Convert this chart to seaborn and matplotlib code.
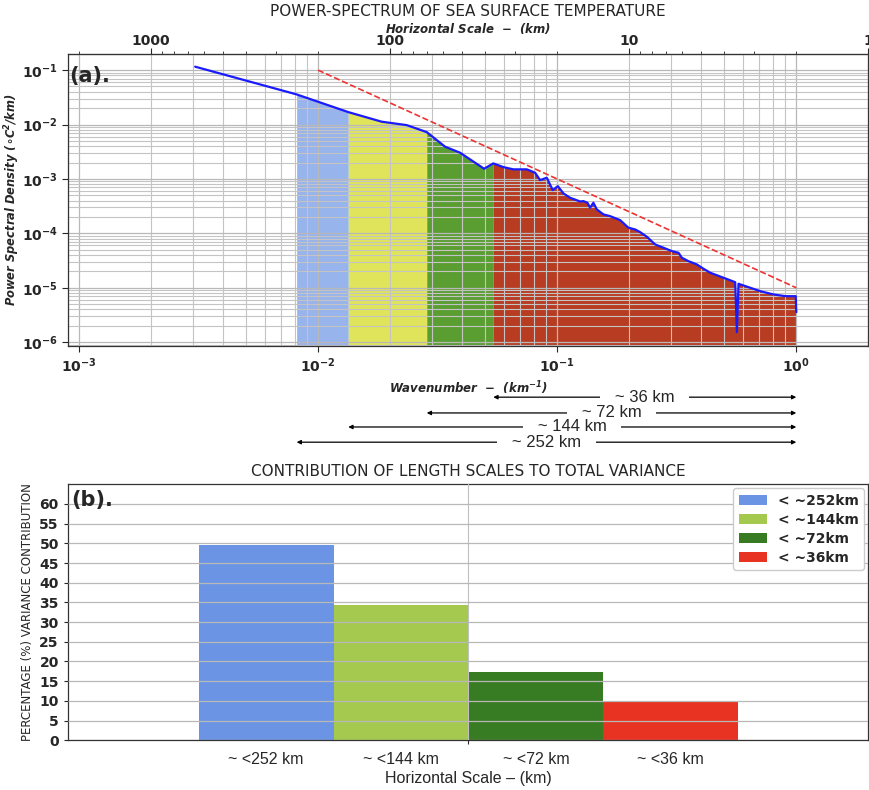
import numpy as np
import pandas as pd
import matplotlib
matplotlib.use("Agg")
import matplotlib.pyplot as plt
from matplotlib.transforms import blended_transform_factory
import seaborn as sns

# ---------------- data ----------------
wavenumber = [0.003066, 0.008145, 0.01339, 0.01847, 0.02350, 0.02850, 0.0340, 0.0393,
              0.0495, 0.0541, 0.0596, 0.0656, 0.0747, 0.0809, 0.0849, 0.0905, 0.0959,
              0.1007, 0.1063, 0.1133, 0.1248, 0.1288, 0.1339, 0.1374, 0.1418, 0.1466,
              0.1562, 0.1666, 0.1835, 0.1987, 0.2120, 0.2225, 0.2373, 0.2570, 0.2785,
              0.3020, 0.3218, 0.3324, 0.3542, 0.3842, 0.4031, 0.4367, 0.4964, 0.5554,
              0.5646, 0.5734, 0.6421, 0.7069, 0.8035, 0.8995, 0.995, 1.0]
psd = [0.1155, 0.03575, 0.0169, 0.01126, 0.00975, 0.00725, 0.00391, 0.00303,
       0.00154, 0.00193, 0.00165, 0.0015, 0.0015, 0.0013, 0.00095, 0.001052, 0.000622,
       0.000737, 0.000541, 0.000451, 0.000385, 0.000391, 0.000365, 0.000296, 0.000365,
       0.000275, 0.000223, 0.000207, 0.000175, 0.0001268, 0.0001179, 0.0001052,
       8.66e-5, 6.25e-5, 5.44e-5, 4.71e-5, 4.40e-5, 3.56e-5, 3.08e-5, 2.68e-5, 2.33e-5,
       1.887e-5, 1.527e-5, 1.267e-5, 1.527e-6, 1.184e-5, 1.0e-5, 8.66e-6, 7.53e-6,
       7.01e-6, 7.0e-6, 3.56e-6]
ref_k = [0.01, 1.0]
ref_psd = [0.1, 1.0e-5]
band_edges = [0.008145, 0.01339, 0.0285, 0.0541, 1.0]
band_colors = ['#98b4ec', '#dfe45a', '#5a9e32', '#b83c22']
arrow_labels = ['~ 36 km', '~ 72 km', '~ 144 km', '~ 252 km']
arrow_left = [0.0541, 0.0285, 0.01339, 0.008145]
top_ticks = [1000, 100, 10, 1]

scale_labels = ['~ <252 km', '~ <144 km', '~ <72 km', '~ <36 km']
legend_labels = ['< ~252km', '< ~144km', '< ~72km', '< ~36km']
variance = [49.7, 34.3, 17.4, 9.7]
bar_colors = ['#6b95e4', '#a5c94f', '#377b22', '#e83323']

# ---------------- style ----------------
sns.set_style("white")
plt.rcParams['font.family'] = ['DejaVu Sans']
plt.rcParams['mathtext.default'] = 'regular'
ARIAL = ['Liberation Sans', 'DejaVu Sans']

fig = plt.figure(figsize=(8.7, 7.9), dpi=100)
ax1 = fig.add_axes([0.078, 0.562, 0.920, 0.370])
ax2 = fig.add_axes([0.078, 0.063, 0.920, 0.324])

# ---------------- panel (a) ----------------
k = np.array(wavenumber)
p = np.array(psd)
ax1.set_xscale('log')
ax1.set_yscale('log')
for lo, hi, c in zip(band_edges[:-1], band_edges[1:], band_colors):
    m = (k >= lo) & (k <= hi)
    ax1.fill_between(k[m], 1e-9, p[m], color=c, linewidth=0, zorder=1)
sns.lineplot(x=wavenumber, y=psd, ax=ax1, color='#1a1aff', linewidth=1.6,
             zorder=4, sort=False, estimator=None)
ax1.plot(ref_k, ref_psd, '--', color='#ee3333', linewidth=1.2, zorder=4)
ax1.set_xlim(0.0009, 2.0)
ax1.set_ylim(8.5e-7, 0.2)
ax1.set_axisbelow(False)
ax1.grid(True, which='major', color='#b8b8b8', linewidth=0.9, zorder=2)
ax1.grid(True, which='minor', color='#c4c4c4', linewidth=0.8, zorder=2)
for s in ax1.spines.values():
    s.set_color('#333333'); s.set_linewidth(0.9); s.set_zorder(5)
ax1.tick_params(axis='both', which='major', labelsize=10, length=4, direction='out',
                bottom=True, left=True)
ax1.tick_params(axis='both', which='minor', length=0)
for t in ax1.get_xticklabels() + ax1.get_yticklabels():
    t.set_fontweight('bold')
ax1.set_xlabel(r'Wavenumber  $-$  (km$^{-1}$)', fontsize=8.5, fontweight='bold',
               fontstyle='italic', labelpad=3)
ax1.set_ylabel(r'Power Spectral Density ($\circ C^2/km$)', fontsize=8.3,
               fontweight='bold', fontstyle='italic')
ax1.yaxis.set_label_coords(-0.057, 0.5)
ax1.text(0.002, 0.925, '(a).', transform=ax1.transAxes, fontsize=15,
         fontweight='bold', va='center', ha='left', zorder=6)


def inv(x):
    x = np.asarray(x, dtype=float)
    with np.errstate(divide='ignore', invalid='ignore'):
        return 2.0 / x


secax = ax1.secondary_xaxis('top', functions=(inv, inv))
secax.set_xticks(top_ticks)
secax.set_xticklabels([str(t) for t in top_ticks], fontweight='bold', fontsize=10)
secax.tick_params(axis='x', which='major', length=4, pad=0)
secax.tick_params(axis='x', which='minor', length=2)
fig.text(0.538, 1 - 28 / 790, r'Horizontal Scale  $-$  (km)', fontsize=8.5,
         fontweight='bold', fontstyle='italic', ha='center', va='center')
fig.text(0.538, 1 - 12 / 790, 'POWER-SPECTRUM OF SEA SURFACE TEMPERATURE',
         fontsize=11, ha='center', va='center')

arrow_y = [-0.175, -0.229, -0.277, -0.329]
for lab, kl, yy in zip(arrow_labels, arrow_left, arrow_y):
    ax1.annotate('', xy=(1.0, yy), xytext=(kl, yy),
                 xycoords=('data', 'axes fraction'),
                 textcoords=('data', 'axes fraction'),
                 arrowprops=dict(arrowstyle='<|-|>', color='black', lw=0.9,
                                 mutation_scale=6, shrinkA=0, shrinkB=0),
                 annotation_clip=False)
    xm = np.sqrt(kl * 1.0)
    ax1.text(xm, yy, '   ' + lab + '   ',
             transform=blended_transform_factory(ax1.transData, ax1.transAxes),
             ha='center', va='center', fontsize=12, family=ARIAL,
             bbox=dict(facecolor='white', edgecolor='none', pad=0.5), clip_on=False)

# ---------------- panel (b) ----------------
df = pd.DataFrame({'group': ['all'] * 4, 'scale': legend_labels, 'variance': variance})
sns.barplot(data=df, x='group', y='variance', hue='scale', hue_order=legend_labels,
            palette=bar_colors, saturation=1, width=0.8, linewidth=0, ax=ax2)
ax2.set_xlim(-0.594, 0.593)
ax2.set_ylim(0, 65)
ax2.set_yticks(np.arange(0, 61, 5))
ax2.set_axisbelow(False)
ax2.grid(True, axis='y', color='#b8b8b8', linewidth=0.9)
ax2.grid(True, axis='x', color='#c0c0c0', linewidth=0.8)
ax2.set_xticks([0])
ax2.set_xticklabels([''])
ax2.tick_params(axis='both', length=3, direction='out', bottom=True, left=True)
for t in ax2.get_yticklabels():
    t.set_fontweight('bold')
    t.set_fontsize(10)
for s in ax2.spines.values():
    s.set_color('#333333'); s.set_linewidth(0.9)
ax2.set_xlabel('Horizontal Scale – (km)', fontsize=11.5, family=ARIAL, labelpad=16)
ax2.set_ylabel('PERCENTAGE (%) VARIANCE CONTRIBUTION', fontsize=8.5)
ax2.set_title('CONTRIBUTION OF LENGTH SCALES TO TOTAL VARIANCE', fontsize=11, pad=6)
ax2.text(0.004, 0.94, '(b).', transform=ax2.transAxes, fontsize=15,
         fontweight='bold', va='center', ha='left', zorder=6)

bars = [b for b in ax2.patches if b.get_height() > 0][:4]
trans = blended_transform_factory(ax2.transData, ax2.transAxes)
for b, lab in zip(bars, scale_labels):
    ax2.text(b.get_x() + b.get_width() / 2, -0.075, lab, transform=trans,
             ha='center', va='center', fontsize=11.5, family=ARIAL)

handles, labels = ax2.get_legend_handles_labels()
if ax2.get_legend() is not None:
    ax2.get_legend().remove()
ax2.legend(handles, labels, loc='upper right', prop={'weight': 'bold', 'size': 10},
           frameon=True, framealpha=1, edgecolor='#cccccc', borderaxespad=0.3,
           handlelength=2.0, handleheight=0.7, labelspacing=0.35, borderpad=0.4)

fig.savefig('out.png', dpi=100)
